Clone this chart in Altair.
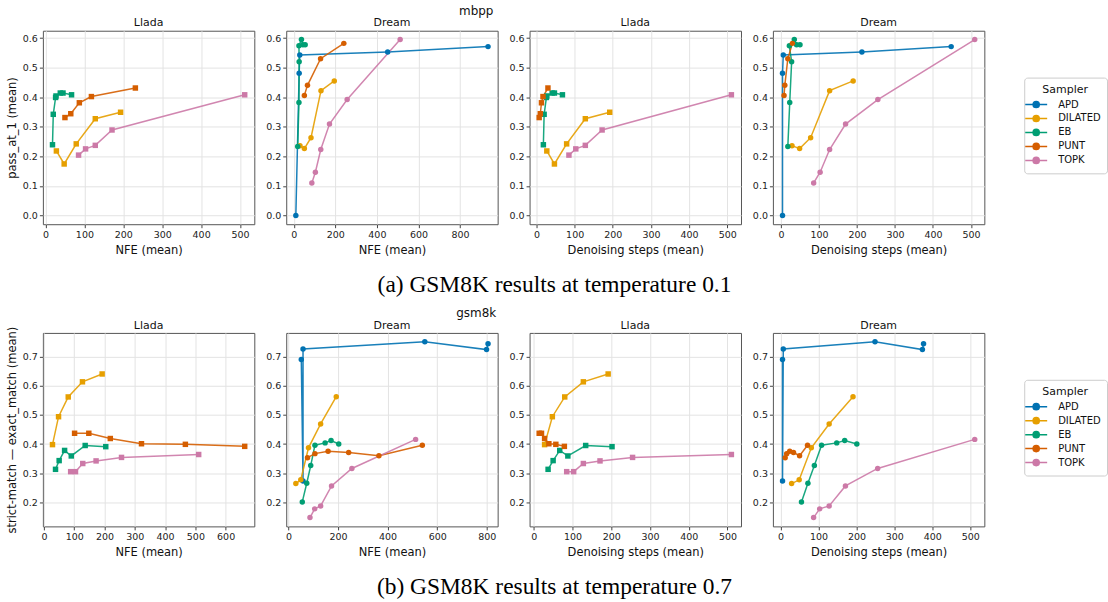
import altair as alt
import pandas as pd

SAMPLERS = ["APD", "DILATED", "EB", "PUNT", "TOPK"]
PALETTE = ["#0072B2", "#E69F00", "#009E73", "#D55E00", "#CC79A7"]
MODELS = ["Llada", "Dream", "Llada", "Dream"]
X_TITLES = ["NFE (mean)", "NFE (mean)", "Denoising steps (mean)", "Denoising steps (mean)"]
ROW_TITLES = ["mbpp", "gsm8k"]
Y_TITLES = ["pass_at_1 (mean)", "strict-match \u2014 exact_match (mean)"]
CAPTIONS = ["(a) GSM8K results at temperature 0.1", "(b) GSM8K results at temperature 0.7"]
X_TICKS_ROW1 = [[0, 100, 200, 300, 400, 500], [0, 200, 400, 600, 800],
                [0, 100, 200, 300, 400, 500], [0, 100, 200, 300, 400, 500]]
X_TICKS_ROW2 = [[0, 100, 200, 300, 400, 500, 600], [0, 200, 400, 600, 800],
                [0, 100, 200, 300, 400, 500], [0, 100, 200, 300, 400, 500]]
Y_TICKS_ROW1 = [0.0, 0.1, 0.2, 0.3, 0.4, 0.5, 0.6]
Y_TICKS_ROW2 = [0.2, 0.3, 0.4, 0.5, 0.6, 0.7]

# ---------------- mbpp (temperature 0.1) ----------------
# Llada
MB_LL_DILATED_NFE = [28, 48, 79, 128, 193]
MB_LL_DILATED_STEPS = [27, 47, 79, 128, 192]
MB_LL_DILATED_Y = [0.218, 0.174, 0.242, 0.327, 0.349]
MB_LL_EB_NFE = [18, 20, 26, 27, 38, 45, 67]
MB_LL_EB_STEPS = [18, 20, 26, 27, 41, 47, 68]
MB_LL_EB_Y = [0.239, 0.342, 0.399, 0.404, 0.414, 0.414, 0.408]
MB_LL_PUNT_NFE = [50, 65, 87, 118, 231]
MB_LL_PUNT_STEPS = [7, 10, 13, 17, 30]
MB_LL_PUNT_Y = [0.331, 0.344, 0.381, 0.402, 0.431]
MB_LL_TOPK_NFE = [85, 103, 128, 171, 512]
MB_LL_TOPK_STEPS = [85, 103, 128, 172, 511]
MB_LL_TOPK_Y = [0.204, 0.225, 0.237, 0.289, 0.408]
# Dream
MB_DR_APD_NFE = [10, 26, 29, 452, 935]
MB_DR_APD_STEPS = [4, 4, 6, 213, 448]
MB_DR_APD_Y = [0.0, 0.481, 0.543, 0.553, 0.571]
MB_DR_DILATED_NFE = [30, 51, 83, 131, 195]
MB_DR_DILATED_STEPS = [29, 49, 78, 128, 190]
MB_DR_DILATED_Y = [0.236, 0.226, 0.263, 0.422, 0.455]
MB_DR_EB_NFE = [19, 25, 26, 25, 37, 44, 55]
MB_DR_EB_STEPS = [18, 23, 28, 22, 35, 41, 50]
MB_DR_EB_Y = [0.233, 0.382, 0.520, 0.574, 0.595, 0.577, 0.577]
MB_DR_PUNT_NFE = [51, 66, 129, 241]
MB_DR_PUNT_STEPS = [8, 10, 18, 30]
MB_DR_PUNT_Y = [0.406, 0.440, 0.530, 0.582]
MB_DR_TOPK_NFE = [87, 104, 130, 172, 257, 512]
MB_DR_TOPK_STEPS = [86, 103, 128, 170, 255, 510]
MB_DR_TOPK_Y = [0.110, 0.146, 0.223, 0.309, 0.392, 0.595]

# ---------------- gsm8k (temperature 0.7) ----------------
# Llada
GS_LL_DILATED_NFE = [28, 48, 80, 127, 192]
GS_LL_DILATED_STEPS = [28, 48, 80, 128, 192]
GS_LL_DILATED_Y = [0.398, 0.494, 0.562, 0.614, 0.641]
GS_LL_EB_NFE = [38, 50, 68, 90, 136, 204]
GS_LL_EB_STEPS = [37, 50, 67, 88, 134, 202]
GS_LL_EB_Y = [0.313, 0.343, 0.378, 0.359, 0.395, 0.391]
GS_LL_PUNT_NFE = [101, 148, 219, 322, 467, 663]
GS_LL_PUNT_STEPS = [14, 20, 28, 39, 57, 79]
GS_LL_PUNT_Y = [0.437, 0.437, 0.419, 0.401, 0.399, 0.392]
GS_LL_TOPK_NFE = [88, 104, 128, 172, 256, 511]
GS_LL_TOPK_STEPS = [85, 103, 128, 171, 255, 510]
GS_LL_TOPK_Y = [0.305, 0.305, 0.333, 0.342, 0.354, 0.364]
# Dream
GS_DR_APD_NFE = [52, 59, 59, 550, 799, 805]
GS_DR_APD_STEPS = [5, 5, 7, 249, 374, 377]
GS_DR_APD_Y = [0.691, 0.273, 0.727, 0.752, 0.725, 0.745]
GS_DR_DILATED_NFE = [30, 50, 81, 130, 193]
GS_DR_DILATED_STEPS = [29, 49, 81, 128, 191]
GS_DR_DILATED_Y = [0.264, 0.277, 0.387, 0.469, 0.563]
GS_DR_EB_NFE = [56, 74, 90, 107, 148, 172, 203]
GS_DR_EB_STEPS = [55, 72, 89, 108, 148, 169, 201]
GS_DR_EB_Y = [0.201, 0.265, 0.326, 0.396, 0.404, 0.412, 0.400]
GS_DR_PUNT_NFE = [77, 107, 160, 243, 365, 540]
GS_DR_PUNT_STEPS = [12, 16, 24, 34, 50, 71]
GS_DR_PUNT_Y = [0.353, 0.367, 0.375, 0.371, 0.360, 0.396]
GS_DR_TOPK_NFE = [87, 106, 130, 174, 256, 513]
GS_DR_TOPK_STEPS = [87, 103, 128, 171, 256, 512]
GS_DR_TOPK_Y = [0.147, 0.177, 0.187, 0.256, 0.316, 0.416]

ROW1_SERIES = [
    [("DILATED", MB_LL_DILATED_NFE, MB_LL_DILATED_Y), ("EB", MB_LL_EB_NFE, MB_LL_EB_Y),
     ("PUNT", MB_LL_PUNT_NFE, MB_LL_PUNT_Y), ("TOPK", MB_LL_TOPK_NFE, MB_LL_TOPK_Y)],
    [("APD", MB_DR_APD_NFE, MB_DR_APD_Y), ("DILATED", MB_DR_DILATED_NFE, MB_DR_DILATED_Y),
     ("EB", MB_DR_EB_NFE, MB_DR_EB_Y), ("PUNT", MB_DR_PUNT_NFE, MB_DR_PUNT_Y),
     ("TOPK", MB_DR_TOPK_NFE, MB_DR_TOPK_Y)],
    [("DILATED", MB_LL_DILATED_STEPS, MB_LL_DILATED_Y), ("EB", MB_LL_EB_STEPS, MB_LL_EB_Y),
     ("PUNT", MB_LL_PUNT_STEPS, MB_LL_PUNT_Y), ("TOPK", MB_LL_TOPK_STEPS, MB_LL_TOPK_Y)],
    [("APD", MB_DR_APD_STEPS, MB_DR_APD_Y), ("DILATED", MB_DR_DILATED_STEPS, MB_DR_DILATED_Y),
     ("EB", MB_DR_EB_STEPS, MB_DR_EB_Y), ("PUNT", MB_DR_PUNT_STEPS, MB_DR_PUNT_Y),
     ("TOPK", MB_DR_TOPK_STEPS, MB_DR_TOPK_Y)],
]
ROW2_SERIES = [
    [("DILATED", GS_LL_DILATED_NFE, GS_LL_DILATED_Y), ("EB", GS_LL_EB_NFE, GS_LL_EB_Y),
     ("PUNT", GS_LL_PUNT_NFE, GS_LL_PUNT_Y), ("TOPK", GS_LL_TOPK_NFE, GS_LL_TOPK_Y)],
    [("APD", GS_DR_APD_NFE, GS_DR_APD_Y), ("DILATED", GS_DR_DILATED_NFE, GS_DR_DILATED_Y),
     ("EB", GS_DR_EB_NFE, GS_DR_EB_Y), ("PUNT", GS_DR_PUNT_NFE, GS_DR_PUNT_Y),
     ("TOPK", GS_DR_TOPK_NFE, GS_DR_TOPK_Y)],
    [("DILATED", GS_LL_DILATED_STEPS, GS_LL_DILATED_Y), ("EB", GS_LL_EB_STEPS, GS_LL_EB_Y),
     ("PUNT", GS_LL_PUNT_STEPS, GS_LL_PUNT_Y), ("TOPK", GS_LL_TOPK_STEPS, GS_LL_TOPK_Y)],
    [("APD", GS_DR_APD_STEPS, GS_DR_APD_Y), ("DILATED", GS_DR_DILATED_STEPS, GS_DR_DILATED_Y),
     ("EB", GS_DR_EB_STEPS, GS_DR_EB_Y), ("PUNT", GS_DR_PUNT_STEPS, GS_DR_PUNT_Y),
     ("TOPK", GS_DR_TOPK_STEPS, GS_DR_TOPK_Y)],
]

W, H = 212, 194
LEGEND_SYMBOL = "M-2.2,0L2.2,0M0.62,0A0.62,0.62,0,1,1,-0.62,0A0.62,0.62,0,1,1,0.62,0Z"
COLOR_EXPR = "[%s][indexof([%s], datum.value)]" % (
    ",".join("'%s'" % c for c in PALETTE), ",".join("'%s'" % s for s in SAMPLERS))


def frame(series):
    rows = []
    for s, xs, ys in series:
        for i, (xv, yv) in enumerate(zip(xs, ys)):
            rows.append({"s": s, "i": i, "x": xv, "y": yv})
    return pd.DataFrame(rows)


def padded(vals):
    lo, hi = min(vals), max(vals)
    m = 0.05 * (hi - lo)
    return [lo - m, hi + m]


def text_layer(text, x, y, **kw):
    return alt.Chart(pd.DataFrame({"t": [text]})).mark_text(
        baseline="alphabetic", align="center", **kw).encode(
        text="t:N", x=alt.value(x), y=alt.value(y))


def panel(series, col, xticks, ydomain, yticks, ytitle, with_legend, row_title, cap):
    df = frame(series)
    xdom = padded(list(df["x"]))
    cscale = alt.Scale(domain=SAMPLERS, range=PALETTE)
    xenc = alt.X("x:Q", scale=alt.Scale(domain=xdom, nice=False, zero=False),
                 axis=alt.Axis(values=xticks, format="d", title=X_TITLES[col]))
    if ytitle:
        yaxis = alt.Axis(values=yticks, format=".1f", title=ytitle)
    else:
        yaxis = alt.Axis(values=yticks, format=".1f", title=None)
    yenc = alt.Y("y:Q", scale=alt.Scale(domain=ydomain, nice=False, zero=False), axis=yaxis)
    if with_legend:
        leg = alt.Legend(title="Sampler", orient="none", legendX=252, legendY=47,
                         symbolType=LEGEND_SYMBOL, symbolSize=100, symbolStrokeWidth=1.5,
                         symbolFillColor=alt.ExprRef(expr=COLOR_EXPR),
                         symbolStrokeColor=alt.ExprRef(expr=COLOR_EXPR),
                         symbolOpacity=1,
                         labelFontSize=10, titleFontSize=11, titleFontWeight="normal",
                         titleAnchor="middle", padding=6, strokeColor="#cccccc",
                         cornerRadius=3, fillColor="white", labelOffset=16, rowPadding=0,
                         titlePadding=4, labelColor="#111111", titleColor="#111111")
    else:
        leg = None
    shape = "square" if MODELS[col] == "Llada" else "circle"
    line = alt.Chart(df).mark_line(strokeWidth=1.5, opacity=0.9).encode(
        x=xenc, y=yenc, color=alt.Color("s:N", scale=cscale, legend=leg), order="i:Q")
    pts = alt.Chart(df).mark_point(shape=shape, filled=True, size=30, opacity=1).encode(
        x=xenc, y=yenc, color=alt.Color("s:N", scale=cscale, legend=leg))
    layers = [line, pts, text_layer(MODELS[col], W / 2, -4.3, fontSize=11, color="#111111")]
    if row_title:
        layers.append(text_layer(row_title, 190.5, -15.8, fontSize=12, color="#111111"))
        layers.append(text_layer(cap, 269, 261.7, font="Liberation Serif", fontSize=23.5,
                                 color="black"))
    return alt.layer(*layers).properties(width=W, height=H)


def row(series_list, xticks_list, yticks, ytitle, rtitle, cap):
    allys = [v for ser in series_list for _, _, ys in ser for v in ys]
    ydom = padded(allys)
    return [panel(series_list[c], c, xticks_list[c], ydom, yticks,
                  ytitle if c == 0 else None, c == 3,
                  rtitle if c == 1 else None, cap if c == 1 else None) for c in range(4)]


panels = (row(ROW1_SERIES, X_TICKS_ROW1, Y_TICKS_ROW1, Y_TITLES[0], ROW_TITLES[0], CAPTIONS[0])
          + row(ROW2_SERIES, X_TICKS_ROW2, Y_TICKS_ROW2, Y_TITLES[1], ROW_TITLES[1], CAPTIONS[1]))

chart = alt.concat(*panels, columns=4, spacing=alt.RowColnumber(row=109, column=32),
                   bounds="flush").resolve_scale(color="independent").properties(
    padding={"left": 5, "top": 3, "right": 0, "bottom": 0}
).configure(font="DejaVu Sans").configure_view(
    stroke="#555555", strokeWidth=1
).configure_axis(
    labelFont="DejaVu Sans", labelFontSize=9.5, labelColor="#222222",
    titleFont="DejaVu Sans", titleFontSize=11.5, titleFontWeight="normal", titleColor="#111111",
    gridColor="#e3e3e3", gridWidth=1, domain=False, tickColor="#444444", tickSize=3.5,
    tickWidth=1, labelPadding=2, titlePadding=5, labelFlush=False, labelOverlap=False
).configure_legend(labelFont="DejaVu Sans", titleFont="DejaVu Sans")

chart.save("out.html", embed_options={"renderer": "svg", "actions": False})
